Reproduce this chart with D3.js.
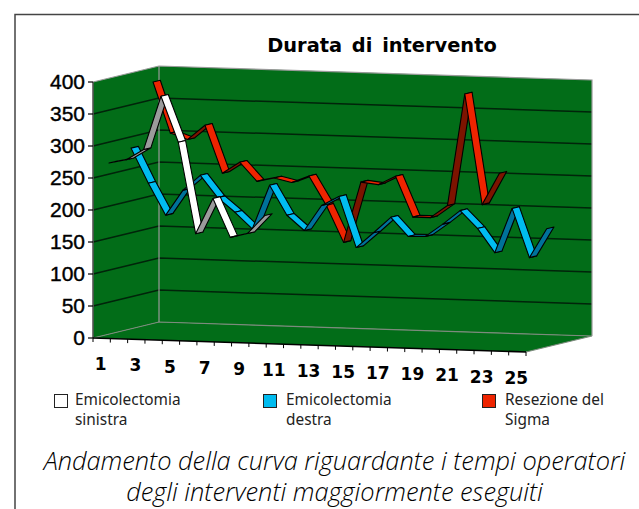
<!DOCTYPE html>
<html><head><meta charset="utf-8">
<script src="https://cdn.jsdelivr.net/npm/d3@7"></script>
<style>html,body{margin:0;padding:0;background:#fff}svg{display:block}</style>
</head><body><svg id="c" width="639" height="509"></svg>
<script>
const title = "Durata di intervento";
const categories = d3.range(1, 26);
const valueTicks = [0, 50, 100, 150, 200, 250, 300, 350, 400];
const sinistra = [271, 277, 294, 378, 307, 165, 221, 161, 168, 197];
const destra = [286, 232, 183, 223, 247, 213, 191, 166, 235, 189, 166, 206, 221, 142, 166, 191, 162, 163, 183, 205, 178, 141, 211, 135, 181];
const sigma = [381, 302, 293, 316, 242, 260, 231, 237, 231, 242, 197, 140, 235, 232, 246, 183, 183, 203, 378, 206, 256];
const legendLines = [["Emicolectomia", "sinistra"], ["Emicolectomia", "destra"], ["Resezione del", "Sigma"]];
const captionLines = ["Andamento della curva riguardante i tempi operatori", "degli interventi maggiormente eseguiti"];

const xScale = d3.scaleLinear().domain([0.5, 25.5]).range([93, 526]);
const driftScale = d3.scaleLinear().domain([0.5, 25.5]).range([338, 352]);
const vScale = d3.scaleLinear().domain([0, 400]).range([0, 256]);
const depthX = d3.scaleLinear().domain([0, 1]).range([0, 66]);
const depthY = d3.scaleLinear().domain([0, 1]).range([0, -16]);
const project = (i, v, d) => [xScale(i) + depthX(d), driftScale(i) - vScale(v) + depthY(d)];
const pts = a => a.map(p => p.join(",")).join(" ");

const svg = d3.select("#c");
const GREEN = "#026d18";
svg.append("path").attr("d", "M15,509V14.5H639").attr("fill", "none").attr("stroke", "#444").attr("stroke-width", 1.5);

svg.append("text").text(title).attr("x", 382).attr("y", 52).attr("text-anchor", "middle")
  .attr("font-family", "DejaVu Sans").attr("font-weight", "bold").attr("font-size", 19.4).attr("word-spacing", 3).attr("fill", "#000");

const lo = 0.5, hi = 25.5;
const walls = [
  [[lo, 0, 0], [lo, 400, 0], [lo, 400, 1], [lo, 0, 1]],
  [[lo, 0, 1], [lo, 400, 1], [hi, 400, 1], [hi, 0, 1]],
  [[lo, 0, 0], [lo, 0, 1], [hi, 0, 1], [hi, 0, 0]]
];
svg.append("g").selectAll("polygon").data(walls).join("polygon")
  .attr("points", w => pts(w.map(p => project(...p)))).attr("fill", GREEN);

const grid = svg.append("g").attr("fill", "none");
valueTicks.slice(1, -1).forEach(v => {
  grid.append("polyline").attr("points", pts([project(lo, v, 0), project(lo, v, 1), project(hi, v, 1)]))
    .attr("stroke", "#01240a").attr("stroke-width", 1.5);
});
grid.append("polyline").attr("points", pts([project(lo, 0, 0), project(lo, 0, 1), project(hi, 0, 1), project(hi, 0, 0)])).attr("stroke", "#7d8a7d").attr("stroke-width", 1.2);
grid.append("polyline").attr("points", pts([project(lo, 400, 0), project(lo, 400, 1), project(hi, 400, 1), project(hi, 0, 1)])).attr("stroke", "#9a9a9a").attr("stroke-width", 1.2);
grid.append("line").attr("x1", project(lo, 0, 1)[0]).attr("y1", project(lo, 0, 1)[1]).attr("x2", project(lo, 400, 1)[0]).attr("y2", project(lo, 400, 1)[1]).attr("stroke", "#9a9a9a").attr("stroke-width", 1.2);

const series = [
  {values: sigma, depth: 5 / 6, top: "#ee2400", under: "#7c1400"},
  {values: destra, depth: 1 / 2, top: "#00bcf0", under: "#00729a"},
  {values: sinistra, depth: 1 / 6, top: "#ffffff", under: "#9b9b9b"}
];
const halfWidth = 0.055;
series.forEach(s => {
  const g = svg.append("g");
  const segs = d3.pairs(s.values.map((v, k) => ({i: categories[k], v})));
  g.selectAll("polygon").data(segs).join("polygon")
    .attr("points", ([a, b]) => pts([
      project(a.i, a.v, s.depth - halfWidth), project(b.i, b.v, s.depth - halfWidth),
      project(b.i, b.v, s.depth + halfWidth), project(a.i, a.v, s.depth + halfWidth)]))
    .attr("fill", ([a, b]) => b.v <= a.v ? s.top : s.under)
    .attr("stroke", "#000").attr("stroke-width", 1.1).attr("stroke-linejoin", "round");
});

const axis = svg.append("g");
axis.append("line").attr("x1", 93).attr("y1", project(lo, 0, 0)[1]).attr("x2", 93).attr("y2", project(lo, 400, 0)[1]).attr("stroke", "#555").attr("stroke-width", 1.6);
axis.append("line").attr("x1", project(lo, 0, 0)[0]).attr("y1", project(lo, 0, 0)[1]).attr("x2", project(hi, 0, 0)[0]).attr("y2", project(hi, 0, 0)[1]).attr("stroke", "#000").attr("stroke-width", 1.6);
axis.selectAll("line.yt").data(valueTicks).join("line").attr("class", "yt")
  .attr("x1", 88).attr("x2", 93).attr("y1", v => project(lo, v, 0)[1]).attr("y2", v => project(lo, v, 0)[1]).attr("stroke", "#000").attr("stroke-width", 1.2);
axis.selectAll("text.yl").data(valueTicks).join("text").attr("class", "yl").text(d => d)
  .attr("x", 85).attr("y", v => project(lo, v, 0)[1] + 7).attr("text-anchor", "end")
  .attr("font-family", "Liberation Sans").attr("font-size", 21).attr("stroke", "#000").attr("stroke-width", 0.4).attr("fill", "#000");
axis.selectAll("line.xt").data(d3.range(0.5, 26, 1)).join("line").attr("class", "xt")
  .attr("x1", i => project(i, 0, 0)[0]).attr("x2", i => project(i, 0, 0)[0])
  .attr("y1", i => project(i, 0, 0)[1]).attr("y2", i => project(i, 0, 0)[1] + 4).attr("stroke", "#000").attr("stroke-width", 1);
axis.selectAll("text.xl").data(categories.filter(c => c % 2 === 1)).join("text").attr("class", "xl").text(d => d)
  .attr("x", i => project(i, 0, 0)[0] - 1).attr("y", i => project(i, 0, 0)[1] + 32).attr("text-anchor", "middle")
  .attr("font-family", "DejaVu Sans").attr("font-weight", "bold").attr("font-size", 17).attr("fill", "#000");

const legendX = [61, 270, 489], legendColors = ["#ffffff", "#00bcf0", "#ee2400"], legendTextX = [75, 286, 505];
const lg = svg.append("g");
legendLines.forEach((lines, k) => {
  lg.append("rect").attr("x", legendX[k] - 6.5).attr("y", 394.5).attr("width", 13).attr("height", 13).attr("fill", legendColors[k]).attr("stroke", "#222").attr("stroke-width", 1);
  lines.forEach((t, j) => lg.append("text").text(t).attr("x", legendTextX[k]).attr("y", 405 + j * 20)
    .attr("font-family", "Noto Sans").attr("font-size", 15.4).attr("fill", "#222"));
});

captionLines.forEach((t, j) => svg.append("text").text(t).attr("x", 334.5).attr("y", 470 + j * 31).attr("text-anchor", "middle")
  .attr("font-family", "Open Sans").attr("font-style", "italic").attr("font-weight", 300).attr("font-size", 25.4).attr("fill", "#000"));
</script></body></html>
